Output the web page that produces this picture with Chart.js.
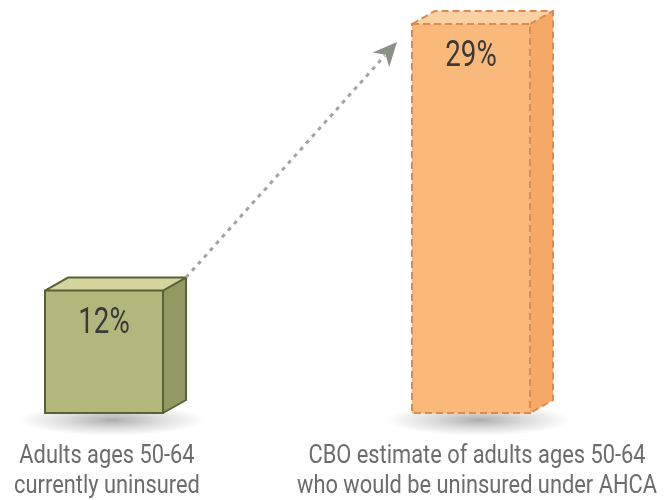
<!DOCTYPE html>
<html>
<head>
<meta charset="utf-8">
<script src="https://cdn.jsdelivr.net/npm/chart.js@4/dist/chart.umd.min.js"></script>
<style>
  html, body { margin: 0; padding: 0; background: #ffffff; }
  #wrap { width: 670px; height: 500px; position: relative; }
</style>
</head>
<body>
<div id="wrap"><canvas id="c" width="670" height="500"></canvas></div>
<script>
// ---- data ----
const categories = [
  ["Adults ages 50-64", "currently uninsured"],
  ["CBO estimate of adults ages 50-64", "who would be uninsured under AHCA"]
];
const uninsuredPct = [12, 29];
const valueLabels = ["12%", "29%"];

// ---- styles ----
const faceStyles = [
  { front: "#b3b77c", top: "#d3d59d", side: "#949963", border: "#5b6136", dash: [] },
  { front: "#f8b97b", top: "#fbd1a4", side: "#f6a966", border: "#df8a4c", dash: [7, 4] }
];
const DX = 23, DY = -13;

function condensedText(ctx, text, x, y, size, sx, color, weight) {
  ctx.save();
  ctx.font = (weight || "400") + " " + size + "px Roboto, 'Liberation Sans', sans-serif";
  ctx.fillStyle = color;
  ctx.textAlign = "center";
  ctx.textBaseline = "alphabetic";
  ctx.translate(x, y);
  ctx.scale(sx, 1);
  ctx.fillText(text, 0, 0);
  ctx.restore();
}

const boxPlugin = {
  id: "box3d",
  beforeDatasetsDraw(chart) {
    const ctx = chart.ctx;
    const meta = chart.getDatasetMeta(0);
    meta.data.forEach((bar) => {
      const p = bar.getProps(["x", "y", "base", "width"], true);
      const cx = p.x + 8, cy = p.base + 7;
      ctx.save();
      ctx.translate(cx, cy);
      ctx.scale(1, 0.17);
      const r = p.width * 0.78;
      const g = ctx.createRadialGradient(0, 0, 0, 0, 0, r);
      g.addColorStop(0, "rgba(0,0,0,0.32)");
      g.addColorStop(0.5, "rgba(0,0,0,0.14)");
      g.addColorStop(1, "rgba(0,0,0,0)");
      ctx.fillStyle = g;
      ctx.beginPath();
      ctx.arc(0, 0, r, 0, Math.PI * 2);
      ctx.fill();
      ctx.restore();
    });
  },
  afterDatasetsDraw(chart) {
    const ctx = chart.ctx;
    const meta = chart.getDatasetMeta(0);
    const bars = meta.data.map(b => b.getProps(["x", "y", "base", "width"], true));
    bars.forEach((p, i) => {
      const st = faceStyles[i];
      const L = p.x - p.width / 2, R = p.x + p.width / 2, T = p.y, B = p.base;
      ctx.save();
      // top face
      ctx.fillStyle = st.top;
      ctx.beginPath();
      ctx.moveTo(L, T); ctx.lineTo(L + DX, T + DY); ctx.lineTo(R + DX, T + DY); ctx.lineTo(R, T); ctx.closePath();
      ctx.fill();
      // side face
      ctx.fillStyle = st.side;
      ctx.beginPath();
      ctx.moveTo(R, T); ctx.lineTo(R + DX, T + DY); ctx.lineTo(R + DX, B + DY); ctx.lineTo(R, B); ctx.closePath();
      ctx.fill();
      // outlines
      ctx.strokeStyle = st.border;
      ctx.lineWidth = 2;
      ctx.setLineDash(st.dash);
      ctx.lineJoin = "miter";
      ctx.beginPath();
      ctx.rect(L, T, R - L, B - T);
      ctx.moveTo(L, T); ctx.lineTo(L + DX, T + DY); ctx.lineTo(R + DX, T + DY); ctx.lineTo(R + DX, B + DY); ctx.lineTo(R, B);
      ctx.moveTo(R, T); ctx.lineTo(R + DX, T + DY);
      ctx.stroke();
      ctx.restore();

      // value label
      condensedText(ctx, valueLabels[i], p.x, T + 42, 36, 0.77, "#3a3a3a");

      // category labels
      categories[i].forEach((line, k) => {
        condensedText(ctx, line, p.x + 3 + i * 3, 463 + k * 30, 26, 0.84, "#6c6c6c");
      });
    });

    // dotted arrow from first box to second box
    if (bars.length === 2) {
      const a = bars[0], b = bars[1];
      const sx = a.x + a.width / 2 + DX, sy = a.y + DY;
      const tx = b.x - b.width / 2 - 15, ty = b.y + 18;
      const ang = Math.atan2(ty - sy, tx - sx);
      const headLen = 24;
      const ex = tx - Math.cos(ang) * (headLen - 6), ey = ty - Math.sin(ang) * (headLen - 6);
      ctx.save();
      ctx.strokeStyle = "#a3a3a3";
      ctx.lineWidth = 3;
      ctx.setLineDash([4, 5]);
      ctx.beginPath();
      ctx.moveTo(sx, sy);
      ctx.lineTo(ex, ey);
      ctx.stroke();
      ctx.setLineDash([]);
      // arrowhead
      ctx.translate(tx, ty);
      ctx.rotate(ang);
      ctx.fillStyle = "#8b9089";
      ctx.beginPath();
      ctx.moveTo(0, 0);
      ctx.lineTo(-headLen, -11);
      ctx.lineTo(-headLen + 7, 0);
      ctx.lineTo(-headLen, 11);
      ctx.closePath();
      ctx.fill();
      ctx.restore();
    }
  }
};

new Chart(document.getElementById("c"), {
  type: "bar",
  data: {
    labels: categories,
    datasets: [{
      data: uninsuredPct,
      backgroundColor: faceStyles.map(s => s.front),
      borderWidth: 0,
      barThickness: 118,
      clip: false
    }]
  },
  options: {
    responsive: false,
    animation: false,
    devicePixelRatio: 1,
    layout: { padding: { left: 104, right: 199, top: 24, bottom: 87 } },
    plugins: { legend: { display: false }, tooltip: { enabled: false } },
    scales: {
      x: { display: false, offset: false, grid: { display: false } },
      y: { display: false, type: "logarithmic", min: 8, max: 29, bounds: "data" }
    }
  },
  plugins: [boxPlugin]
});
</script>
</body>
</html>
